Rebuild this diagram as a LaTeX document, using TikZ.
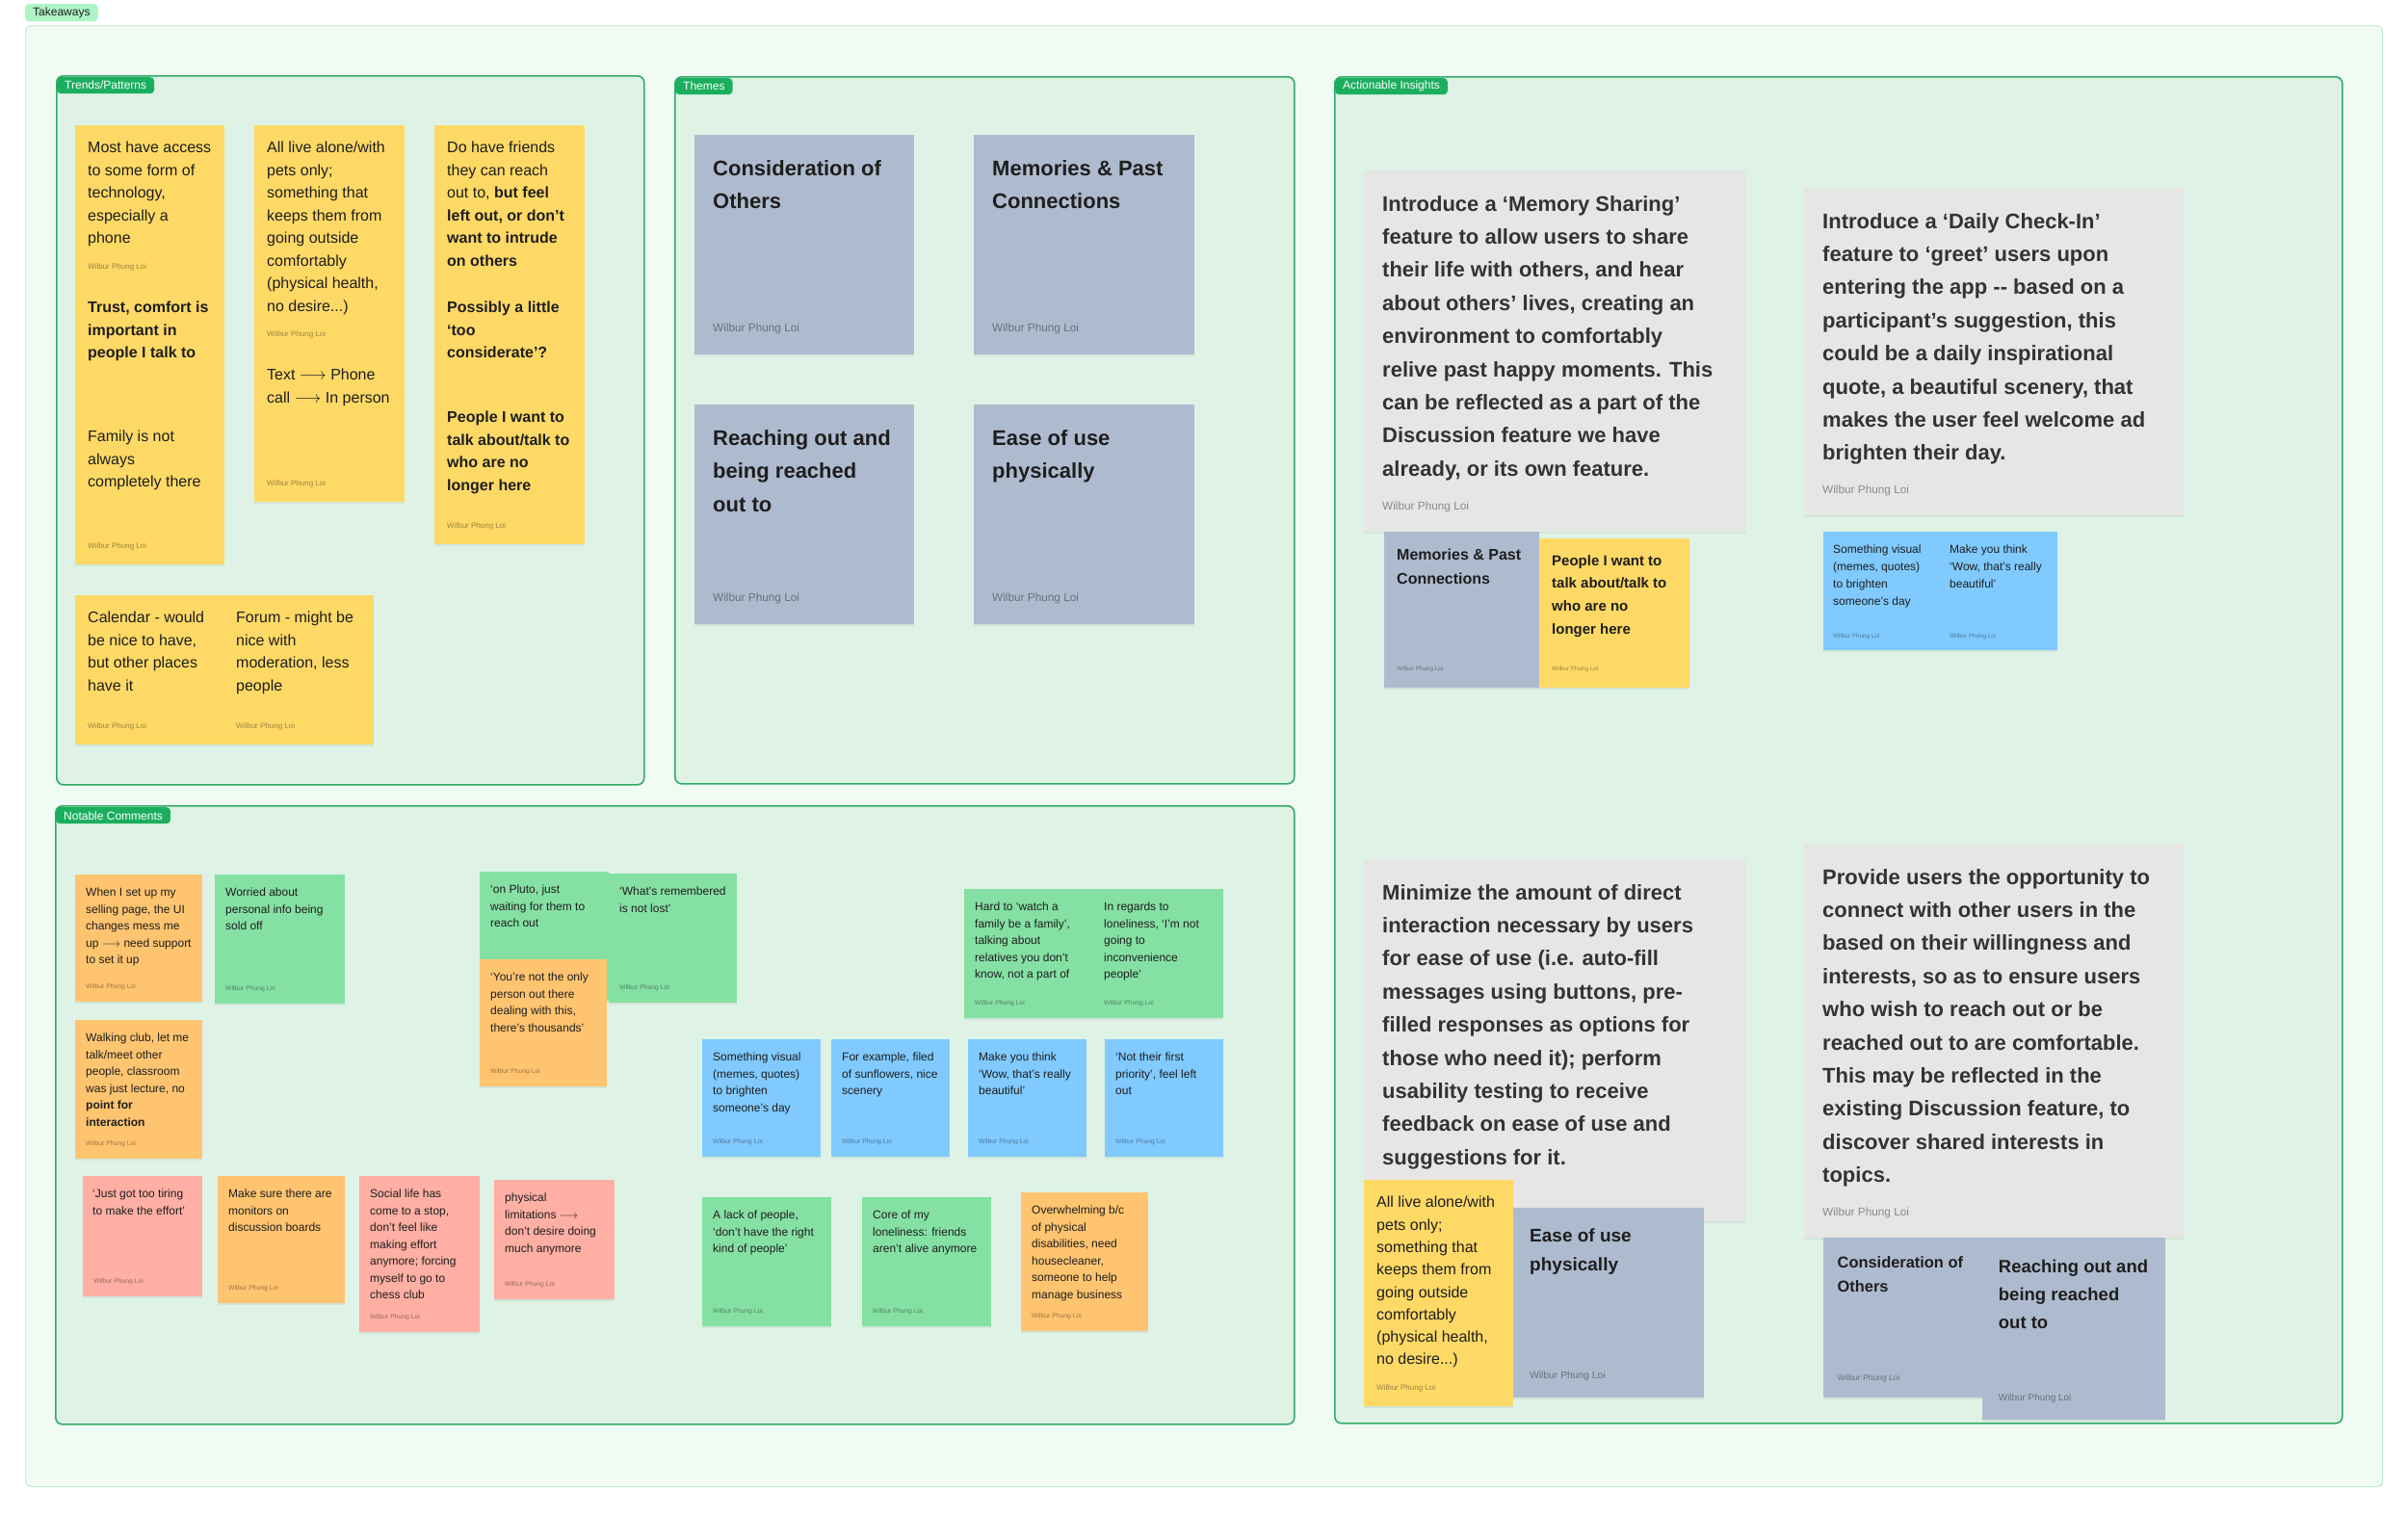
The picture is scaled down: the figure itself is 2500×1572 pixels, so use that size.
\documentclass[tikz,border=0pt]{standalone}
\usepackage{fontspec}
\setmainfont{Liberation Sans}
\usepackage{xcolor}
\usepackage{tikz}
\usetikzlibrary{positioning, shadows}
\definecolor{stickyyellow}{HTML}{FFD966}
\definecolor{stickyorange}{HTML}{FFC470}
\definecolor{stickygreen}{HTML}{85E0A3}
\definecolor{stickyblue}{HTML}{80CAFF}
\definecolor{stickypink}{HTML}{FFAFA3}
\definecolor{stickygray}{HTML}{E6E6E6}
\definecolor{themeslate}{HTML}{AEBBCF}
\definecolor{sectionfill}{HTML}{DEF3E6}
\definecolor{sectionline}{HTML}{33AA68}
\definecolor{sectiontag}{HTML}{1BAE5E}
\definecolor{boardfill}{HTML}{F0FBF4}
\definecolor{boardline}{HTML}{C4EDD2}
\definecolor{boardtagfill}{HTML}{AFF4C6}
\definecolor{ink}{HTML}{1E1E1E}
\definecolor{inkgray}{HTML}{333333}

\begin{document}
\begin{tikzpicture}[
    x=1pt, y=-1pt,
    boardframe/.style={draw=boardline, line width=1.2pt, fill=boardfill, rounded corners=6pt, anchor=north west, inner sep=0pt},
    boardtag/.style={fill=boardtagfill, text=ink, rounded corners=4pt, anchor=north west, inner xsep=8pt, inner ysep=0pt, minimum height=18pt, font=\fontsize{12}{12}\selectfont},
    sectionframe/.style={draw=sectionline, line width=1.6pt, fill=sectionfill, rounded corners=7pt, anchor=north west, inner sep=0pt},
    sectag/.style={fill=sectiontag, text=white, rounded corners=4pt, anchor=north west, inner xsep=8pt, inner ysep=0pt, minimum height=17pt, font=\fontsize{12}{12}\selectfont},
    stickynote/.style={fill=#1, anchor=north west, inner sep=0pt, outer sep=0pt, drop shadow={opacity=0.12, shadow xshift=0pt, shadow yshift=-1.5pt}},
    signature/.style={anchor=south west, inner sep=0pt, text=black, text opacity=0.4, font=\fontsize{#1}{#1}\selectfont},
    signed/.style n args={3}{label={[signature=#1, xshift=#2, yshift=#3]south west:Wilbur Phung Loi}},
    notetext/.style={anchor=north west, inner sep=0pt, align=left, text=ink},
    trendnote/.style={stickynote=#1, signed={8}{13pt}{15pt}},
    trendtext/.style={notetext, xshift=13pt, yshift=-17pt, font=\fontsize{16}{23.5}\selectfont},
    trendbold/.style={trendtext, font=\fontsize{16}{23.5}\selectfont\bfseries},
    themenote/.style={stickynote=themeslate, signed={11.8}{19pt}{21pt}},
    themetext/.style={notetext, xshift=19pt, yshift=-26pt, font=\fontsize{22}{34.5}\selectfont\bfseries},
    bignote/.style={stickynote=stickygray, signed={11.8}{19pt}{20pt}},
    bigtext/.style={notetext, text=inkgray, xshift=19pt, yshift=-26pt, font=\fontsize{22}{34.4}\selectfont\bfseries},
    commentnote/.style={stickynote=#1, signed={6.8}{11pt}{12pt}},
    commenttext/.style={notetext, xshift=11pt, yshift=-14pt, font=\fontsize{12}{17.5}\selectfont},
]
    \useasboundingbox (0,0) rectangle (2500,1572);
    \fill[white] (0,0) rectangle (2500,1572);

    % Board
    \node[boardframe, minimum width=2447pt, minimum height=1517pt] (board) at (26,26) {};
    \node[boardtag] (boardTag) at (26,4) {Takeaways};

    % Sections
    \node[sectionframe, minimum width=610pt, minimum height=736pt] (trends) at (58,78) {};
    \node[sectag] (trendsTag) at ([shift={(1,2)}]trends.north west) {Trends/Patterns};
    \node[sectionframe, minimum width=643pt, minimum height=734pt] (themes) at (700,79) {};
    \node[sectag] (themesTag) at ([shift={(1,2)}]themes.north west) {Themes};
    \node[sectionframe, minimum width=1046pt, minimum height=1398pt] (insights) at (1385,79) {};
    \node[sectag] (insightsTag) at ([shift={(1,2)}]insights.north west) {Actionable Insights};
    \node[sectionframe, minimum width=1286pt, minimum height=642pt] (comments) at (57,836) {};
    \node[sectag] (commentsTag) at ([shift={(1,2)}]comments.north west) {Notable Comments};

    % Trends/Patterns stickies
    \node[trendnote=stickyyellow, minimum width=155pt, minimum height=166pt, label={[trendtext]north west:{Most have access\\to some form of\\technology,\\especially a\\phone}}] (mostAccess) at (78,130) {};
    \node[stickynote=stickyyellow, minimum width=155pt, minimum height=156pt, label={[trendbold]north west:{Trust, comfort is\\important in\\people I talk to}}] (trustComfort) at (78,296) {};
    \node[trendnote=stickyyellow, minimum width=155pt, minimum height=156pt, label={[trendtext]north west:{Family is not\\always\\completely there}}] (familyThere) at (78,430) {};
    \node[trendnote=stickyyellow, minimum width=156pt, minimum height=236pt, label={[trendtext]north west:{All live alone/with\\pets only;\\something that\\keeps them from\\going outside\\comfortably\\(physical health,\\no desire...)}}] (liveAlone) at (264,130) {};
    \node[trendnote=stickyyellow, minimum width=156pt, minimum height=155pt, label={[trendtext]north west:{Text $\longrightarrow$ Phone\\call $\longrightarrow$ In person}}] (textPhone) at (264,366) {};
    \node[stickynote=stickyyellow, minimum width=156pt, minimum height=190pt, label={[trendtext]north west:{Do have friends\\they can reach\\out to, {\bfseries but feel}\\{\bfseries left out, or don’t}\\{\bfseries want to intrude}\\{\bfseries on others}}}] (haveFriends) at (451,130) {};
    \node[stickynote=stickyyellow, minimum width=156pt, minimum height=156pt, label={[trendbold]north west:{Possibly a little\\‘too\\considerate’?}}] (tooConsiderate) at (451,296) {};
    \node[trendnote=stickyyellow, minimum width=156pt, minimum height=155pt, label={[trendbold]north west:{People I want to\\talk about/talk to\\who are no\\longer here}}] (noLonger) at (451,410) {};
    \node[trendnote=stickyyellow, minimum width=155pt, minimum height=155pt, label={[trendtext]north west:{Calendar - would\\be nice to have,\\but other places\\have it}}] (calendar) at (78,618) {};
    \node[trendnote=stickyyellow, minimum width=156pt, minimum height=155pt, label={[trendtext]north west:{Forum - might be\\nice with\\moderation, less\\people}}] (forum) at (232,618) {};

    % Themes
    \node[themenote, minimum width=228pt, minimum height=228pt, label={[themetext]north west:{Consideration of\\Others}}] (thConsideration) at (721,140) {};
    \node[themenote, minimum width=229pt, minimum height=228pt, label={[themetext]north west:{Memories \& Past\\Connections}}] (thMemories) at (1011,140) {};
    \node[themenote, minimum width=228pt, minimum height=228pt, label={[themetext]north west:{Reaching out and\\being reached\\out to}}] (thReaching) at (721,420) {};
    \node[themenote, minimum width=229pt, minimum height=228pt, label={[themetext]north west:{Ease of use\\physically}}] (thEase) at (1011,420) {};

    % Actionable Insights, top row
    \node[bignote, minimum width=397pt, minimum height=375pt, label={[bigtext]north west:{Introduce a ‘Memory Sharing’\\feature to allow users to share\\their life with others, and hear\\about others’ lives, creating an\\environment to comfortably\\relive past happy moments. This\\can be reflected as a part of the\\Discussion feature we have\\already, or its own feature.}}] (memorySharing) at (1416,177) {};
    \node[stickynote=themeslate, signed={6.3}{13pt}{16pt}, minimum width=161pt, minimum height=162pt, label={[notetext, xshift=13pt, yshift=-18pt, font=\fontsize{16}{24.5}\selectfont\bfseries]north west:{Memories \& Past\\Connections}}] (aiMemories) at (1437,552) {};
    \node[stickynote=stickyyellow, signed={6.3}{13pt}{16pt}, minimum width=156pt, minimum height=155pt, label={[notetext, xshift=13pt, yshift=-17pt, font=\fontsize{15}{23.7}\selectfont\bfseries]north west:{People I want to\\talk about/talk to\\who are no\\longer here}}] (aiNoLonger) at (1598,559) {};
    \node[bignote, minimum width=395pt, minimum height=340pt, label={[bigtext]north west:{Introduce a ‘Daily Check-In’\\feature to ‘greet’ users upon\\entering the app -{}- based on a\\participant’s suggestion, this\\could be a daily inspirational\\quote, a beautiful scenery, that\\makes the user feel welcome ad\\brighten their day.}}] (dailyCheckIn) at (1873,195) {};
    \node[stickynote=stickyblue, signed={6.3}{10pt}{11pt}, minimum width=122pt, minimum height=123pt, label={[notetext, xshift=10pt, yshift=-14pt, font=\fontsize{12}{17.9}\selectfont]north west:{Something visual\\(memes, quotes)\\to brighten\\someone’s day}}] (aiVisual) at (1893,552) {};
    \node[stickynote=stickyblue, signed={6.3}{9pt}{11pt}, minimum width=121pt, minimum height=123pt, label={[notetext, xshift=9pt, yshift=-14pt, font=\fontsize{12}{17.9}\selectfont]north west:{Make you think\\‘Wow, that’s really\\beautiful’}}] (aiWow) at (2015,552) {};

    % Actionable Insights, bottom row
    \node[stickynote=stickygray, minimum width=397pt, minimum height=376pt, label={[bigtext]north west:{Minimize the amount of direct\\interaction necessary by users\\for ease of use (i.e. auto-fill\\messages using buttons, pre-\\filled responses as options for\\those who need it); perform\\usability testing to receive\\feedback on ease of use and\\suggestions for it.}}] (minimize) at (1416,892) {};
    \node[stickynote=stickyyellow, signed={8}{13pt}{14.5pt}, minimum width=155pt, minimum height=235pt, label={[trendtext, font=\fontsize{16}{23.3}\selectfont]north west:{All live alone/with\\pets only;\\something that\\keeps them from\\going outside\\comfortably\\(physical health,\\no desire...)}}] (aiLiveAlone) at (1416,1225) {};
    \node[stickynote=themeslate, signed={10.3}{17pt}{17pt}, minimum width=198pt, minimum height=197pt, label={[notetext, xshift=17pt, yshift=-22pt, font=\fontsize{19}{30}\selectfont\bfseries]north west:{Ease of use\\physically}}] (aiEase) at (1571,1254) {};
    \node[bignote, minimum width=395pt, minimum height=409pt, label={[bigtext]north west:{Provide users the opportunity to\\connect with other users in the\\based on their willingness and\\interests, so as to ensure users\\who wish to reach out or be\\reached out to are comfortable.\\This may be reflected in the\\existing Discussion feature, to\\discover shared interests in\\topics.}}] (provideUsers) at (1873,876) {};
    \node[stickynote=themeslate, signed={8.5}{14.5pt}{15.5pt}, minimum width=165pt, minimum height=166pt, label={[notetext, xshift=14.5pt, yshift=-19.5pt, font=\fontsize{16.4}{24.5}\selectfont\bfseries]north west:{Consideration of\\Others}}] (aiConsideration) at (1893,1285) {};
    \node[stickynote=themeslate, signed={9.9}{16.7pt}{17pt}, minimum width=190pt, minimum height=189pt, label={[notetext, xshift=16.7pt, yshift=-22.5pt, font=\fontsize{18.5}{29}\selectfont\bfseries]north west:{Reaching out and\\being reached\\out to}}] (aiReaching) at (2058,1285) {};

    % Notable Comments
    \node[commentnote=stickyorange, minimum width=132pt, minimum height=132pt, label={[commenttext]north west:{When I set up my\\selling page, the UI\\changes mess me\\up $\longrightarrow$ need support\\to set it up}}] (sellingPage) at (78,908) {};
    \node[commentnote=stickygreen, minimum width=135pt, minimum height=134pt, label={[commenttext]north west:{Worried about\\personal info being\\sold off}}] (personalInfo) at (223,908) {};
    \node[commentnote=stickyorange, minimum width=132pt, minimum height=144pt, label={[commenttext]north west:{Walking club, let me\\talk/meet other\\people, classroom\\was just lecture, no\\{\bfseries point for}\\{\bfseries interaction}}}] (walkingClub) at (78,1059) {};
    \node[commentnote=stickypink, minimum width=124pt, minimum height=125pt, label={[commenttext, xshift=-1pt]north west:{‘Just got too tiring\\to make the effort’}}] (tooTiring) at (86,1221) {};
    \node[commentnote=stickyorange, minimum width=132pt, minimum height=132pt, label={[commenttext]north west:{Make sure there are\\monitors on\\discussion boards}}] (monitors) at (226,1221) {};
    \node[commentnote=stickypink, minimum width=125pt, minimum height=162pt, label={[commenttext]north west:{Social life has\\come to a stop,\\don’t feel like\\making effort\\anymore; forcing\\myself to go to\\chess club}}] (socialLife) at (373,1221) {};
    \node[commentnote=stickypink, minimum width=125pt, minimum height=124pt, label={[commenttext]north west:{physical\\limitations $\longrightarrow$\\don’t desire doing\\much anymore}}] (physLimits) at (513,1225) {};
    \node[stickynote=stickygreen, minimum width=134pt, minimum height=134pt, label={[commenttext]north west:{‘on Pluto, just\\waiting for them to\\reach out}}] (onPluto) at (498,905) {};
    \node[commentnote=stickygreen, minimum width=133pt, minimum height=134pt, label={[commenttext]north west:{‘What’s remembered\\is not lost’}}] (remembered) at (632,907) {};
    \node[commentnote=stickyorange, minimum width=132pt, minimum height=132pt, label={[commenttext]north west:{‘You’re not the only\\person out there\\dealing with this,\\there’s thousands’}}] (notOnly) at (498,996) {};
    \node[commentnote=stickygreen, minimum width=134pt, minimum height=134pt, label={[commenttext]north west:{Hard to ‘watch a\\family be a family’,\\talking about\\relatives you don’t\\know, not a part of}}] (watchFamily) at (1001,923) {};
    \node[commentnote=stickygreen, minimum width=135pt, minimum height=134pt, label={[commenttext]north west:{In regards to\\loneliness, ‘I’m not\\going to\\inconvenience\\people’}}] (inconvenience) at (1135,923) {};
    \node[commentnote=stickyblue, minimum width=123pt, minimum height=122pt, label={[commenttext]north west:{Something visual\\(memes, quotes)\\to brighten\\someone’s day}}] (ncVisual) at (729,1079) {};
    \node[commentnote=stickyblue, minimum width=123pt, minimum height=122pt, label={[commenttext]north west:{For example, filed\\of sunflowers, nice\\scenery}}] (sunflowers) at (863,1079) {};
    \node[commentnote=stickyblue, minimum width=123pt, minimum height=122pt, label={[commenttext]north west:{Make you think\\‘Wow, that’s really\\beautiful’}}] (ncWow) at (1005,1079) {};
    \node[commentnote=stickyblue, minimum width=123pt, minimum height=122pt, label={[commenttext]north west:{‘Not their first\\priority’, feel left\\out}}] (firstPriority) at (1147,1079) {};
    \node[commentnote=stickygreen, minimum width=134pt, minimum height=134pt, label={[commenttext]north west:{A lack of people,\\‘don’t have the right\\kind of people’}}] (lackPeople) at (729,1243) {};
    \node[commentnote=stickygreen, minimum width=134pt, minimum height=134pt, label={[commenttext]north west:{Core of my\\loneliness: friends\\aren’t alive anymore}}] (coreLoneliness) at (895,1243) {};
    \node[commentnote=stickyorange, minimum width=132pt, minimum height=144pt, label={[commenttext]north west:{Overwhelming b/c\\of physical\\disabilities, need\\housecleaner,\\someone to help\\manage business}}] (overwhelming) at (1060,1238) {};
\end{tikzpicture}
\end{document}
